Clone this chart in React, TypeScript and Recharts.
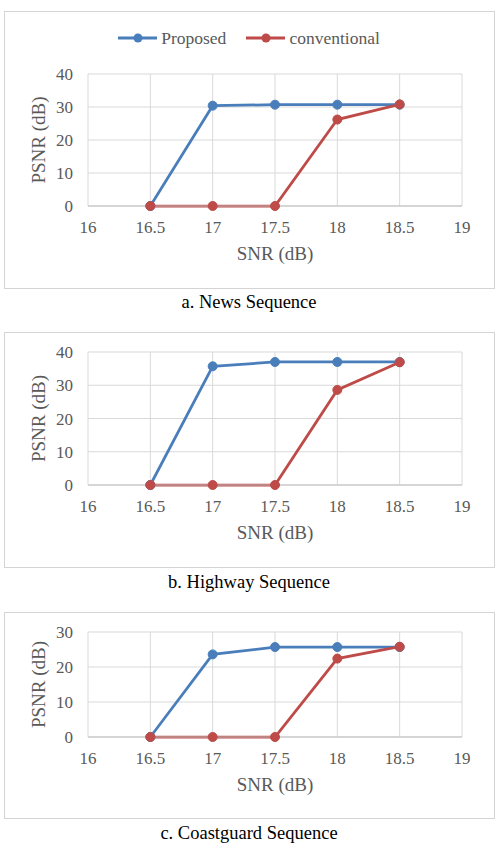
import React from 'react';
import { LineChart, Line, XAxis, YAxis, CartesianGrid, Legend } from 'recharts';

const snr = [16.5, 17, 17.5, 18, 18.5];
const xTicks = [16, 16.5, 17, 17.5, 18, 18.5, 19];
const seriesNames = ['Proposed', 'conventional'];

const newsProposed = [0, 30.4, 30.7, 30.7, 30.7];
const newsConventional = [0, 0, 0, 26.2, 30.8];
const highwayProposed = [0, 35.7, 37.0, 37.0, 37.0];
const highwayConventional = [0, 0, 0, 28.6, 36.9];
const coastProposed = [0, 23.6, 25.7, 25.7, 25.7];
const coastConventional = [0, 0, 0, 22.4, 25.8];

const ticks40 = [0, 10, 20, 30, 40];
const ticks30 = [0, 10, 20, 30];

const captions = ['a. News Sequence', 'b. Highway Sequence', 'c. Coastguard Sequence'];

const FONT = '"Liberation Serif", "Times New Roman", serif';
const BLUE = '#4A7EBB';
const RED = '#BE4B48';
const GRID = '#d9d9d9';
const TEXT = '#595959';

const build = (p: number[], c: number[]) =>
  snr.map((x, i) => ({ snr: x, proposed: p[i], conventional: c[i] }));

const renderLegend = (props: any) => {
  const { payload } = props;
  return (
    <div
      style={{
        display: 'flex',
        justifyContent: 'center',
        alignItems: 'center',
        fontFamily: FONT,
        fontSize: 17.5,
        color: TEXT,
        lineHeight: '20px',
      }}
    >
      {(payload || []).map((entry: any, i: number) => (
        <div key={i} style={{ display: 'flex', alignItems: 'center', marginLeft: i ? 20 : 0 }}>
          <svg width={39} height={12}>
            <line x1={0} y1={6} x2={39} y2={6} stroke={entry.color} strokeWidth={3} />
            <circle cx={20} cy={6} r={4.5} fill={entry.color} />
          </svg>
          <span style={{ marginLeft: 4 }}>{entry.value}</span>
        </div>
      ))}
    </div>
  );
};

type PanelProps = {
  data: any[];
  yMax: number;
  yTicks: number[];
  top: number;
  height: number;
  marginTop: number;
  marginBottom: number;
  legend?: boolean;
};

const Panel = ({ data, yMax, yTicks, top, height, marginTop, marginBottom, legend }: PanelProps) => (
  <>
    <div
      style={{
        position: 'absolute',
        left: 4,
        top,
        width: 489,
        height: height - 2,
        border: '1px solid #d4d4d4',
      }}
    />
    <div style={{ position: 'absolute', left: 0, top }}>
      <LineChart
        width={498}
        height={height}
        data={data}
        margin={{ top: marginTop, right: 36, bottom: marginBottom, left: 38 }}
      >
        <CartesianGrid stroke={GRID} strokeWidth={1} />
        <XAxis
          type="number"
          dataKey="snr"
          domain={[16, 19]}
          ticks={xTicks}
          height={60}
          tickSize={0}
          tickMargin={15}
          axisLine={{ stroke: '#bfbfbf' }}
          tickLine={false}
          tick={{ fill: TEXT, fontSize: 17, fontFamily: FONT }}
          label={{
            value: 'SNR (dB)',
            position: 'insideBottom',
            offset: 6,
            fill: TEXT,
            fontSize: 19,
            fontFamily: FONT,
          }}
        />
        <YAxis
          type="number"
          domain={[0, yMax]}
          ticks={yTicks}
          width={50}
          tickSize={0}
          tickMargin={15}
          axisLine={false}
          tickLine={false}
          tick={{ fill: TEXT, fontSize: 17, fontFamily: FONT }}
          label={{
            value: 'PSNR (dB)',
            angle: -90,
            position: 'insideLeft',
            offset: 0,
            fill: TEXT,
            fontSize: 19,
            fontFamily: FONT,
            textAnchor: 'middle',
            style: { textAnchor: 'middle' },
          }}
        />
        {legend && (
          <Legend
            layout="horizontal"
            verticalAlign="middle"
            align="center"
            wrapperStyle={{ top: 17, left: 0, width: 498 }}
            content={renderLegend}
          />
        )}
        <Line
          type="linear"
          dataKey="proposed"
          name={seriesNames[0]}
          stroke={BLUE}
          strokeWidth={2.75}
          dot={{ r: 4.5, fill: BLUE, stroke: BLUE, strokeWidth: 1 }}
          isAnimationActive={false}
        />
        <Line
          type="linear"
          dataKey="conventional"
          name={seriesNames[1]}
          stroke={RED}
          strokeWidth={2.75}
          dot={{ r: 4.5, fill: RED, stroke: RED, strokeWidth: 1 }}
          isAnimationActive={false}
        />
      </LineChart>
    </div>
  </>
);

const Caption = ({ text, top }: { text: string; top: number }) => (
  <div
    style={{
      position: 'absolute',
      left: 0,
      top,
      width: 498,
      textAlign: 'center',
      fontFamily: FONT,
      fontSize: 18.5,
      color: '#000',
      lineHeight: '20px',
    }}
  >
    {text}
  </div>
);

export default function App() {
  return (
    <div
      style={{
        position: 'absolute',
        left: 0,
        top: 0,
        width: 498,
        height: 850,
        background: '#fff',
        overflow: 'hidden',
      }}
    >
      <Panel
        data={build(newsProposed, newsConventional)}
        yMax={40}
        yTicks={ticks40}
        top={11}
        height={278}
        marginTop={63}
        marginBottom={23}
        legend
      />
      <Caption text={captions[0]} top={292} />
      <Panel
        data={build(highwayProposed, highwayConventional)}
        yMax={40}
        yTicks={ticks40}
        top={332}
        height={236}
        marginTop={20}
        marginBottom={23}
      />
      <Caption text={captions[1]} top={572} />
      <Panel
        data={build(coastProposed, coastConventional)}
        yMax={30}
        yTicks={ticks30}
        top={612}
        height={207}
        marginTop={20}
        marginBottom={22}
      />
      <Caption text={captions[2]} top={823} />
    </div>
  );
}
